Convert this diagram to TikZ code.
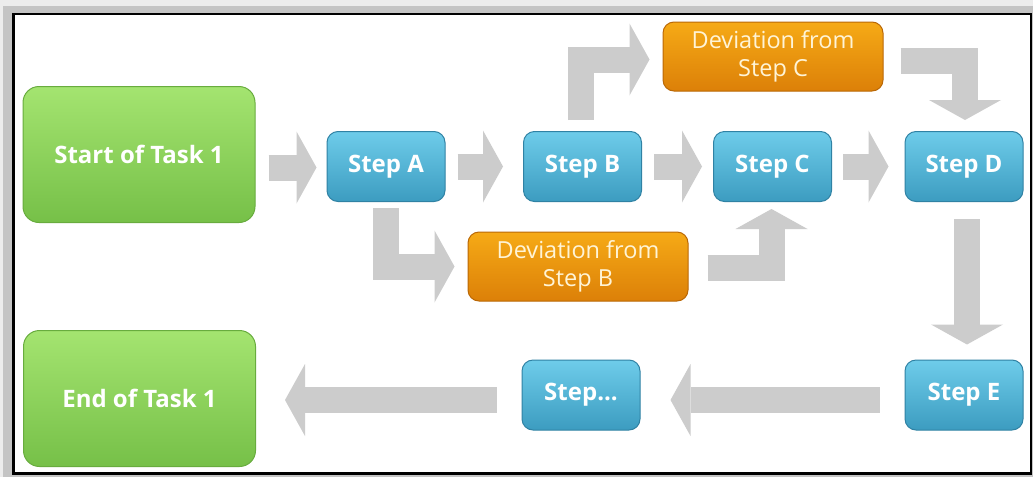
\documentclass[tikz,border=0pt]{standalone}
\usepackage{fontspec}
\setsansfont{Open Sans}
\usetikzlibrary{arrows.meta}

\definecolor{pagegray}{RGB}{236,236,236}
\definecolor{shadowgray}{RGB}{196,196,196}
\definecolor{arrowgray}{RGB}{204,204,204}
\definecolor{greentop}{RGB}{164,228,112}
\definecolor{greenbot}{RGB}{118,192,72}
\definecolor{greenedge}{RGB}{104,172,62}
\definecolor{bluetop}{RGB}{110,204,234}
\definecolor{bluebot}{RGB}{60,156,192}
\definecolor{blueedge}{RGB}{48,130,164}
\definecolor{orangetop}{RGB}{246,170,22}
\definecolor{orangebot}{RGB}{220,128,8}
\definecolor{orangeedge}{RGB}{186,104,6}
\definecolor{creamtext}{RGB}{255,244,214}

\tikzset{
  box/.style={rounded corners=11pt, inner sep=0pt, align=center, line width=1pt,
    font=\sffamily\bfseries\fontsize{24}{28}\selectfont, text=white},
  endbox/.style={box, draw=greenedge, top color=greentop, bottom color=greenbot,
    minimum width=232pt, minimum height=136pt, rounded corners=16pt},
  stepbox/.style={box, draw=blueedge, top color=bluetop, bottom color=bluebot,
    minimum width=118pt, minimum height=70pt},
  devbox/.style={box, draw=orangeedge, top color=orangetop, bottom color=orangebot,
    minimum width=220pt, minimum height=69pt,
    font=\sffamily\fontsize{23.5}{28}\selectfont, text=creamtext},
  blockarrow/.style={draw=arrowgray, line width=26pt, line join=miter,
    -{Triangle[length=20pt,width=72pt,line width=0pt]}},
}

\begin{document}
\begin{tikzpicture}[x=1pt,y=-1pt]
  % page and frame
  \useasboundingbox (0,0) rectangle (1033,477);
  \fill[pagegray] (0,0) rectangle (1033,477);
  \fill[shadowgray] (3,6) rectangle (1033,477);
  \fill[white] (13.5,14) rectangle (1031,473.5);
  \draw[black, line width=2.6pt] (13.5,14) rectangle (1031,473.5);

  % boxes
  \node[endbox]  (start) at (139,154.5) {Start of Task 1};
  \node[endbox]  (finish) at (139.5,398.5) {End of Task 1};
  \node[stepbox] (stepA) at (386,166.5) {Step A};
  \node[stepbox] (stepB) at (582.5,166.5) {Step B};
  \node[stepbox] (stepC) at (772.5,166.5) {Step C};
  \node[stepbox] (stepD) at (964,166.5) {Step D};
  \node[stepbox] (stepE) at (964,395) {Step E};
  \node[stepbox] (stepN) at (581,395) {Step...};
  \node[devbox]  (devC) at (773,56.5) {Deviation from\\Step C};
  \node[devbox]  (devB) at (578,266.5) {Deviation from\\Step B};

  % straight connectors
  \draw[blockarrow] ([shift={(13pt,-13pt)}]start.east) -- ([shift={(-10pt,-1pt)}]stepA.west);
  \draw[blockarrow] ([xshift=12pt]stepA.east) -- ([xshift=-20pt]stepB.west);
  \draw[blockarrow] ([xshift=12pt]stepB.east) -- ([xshift=-11pt]stepC.west);
  \draw[blockarrow] ([xshift=11pt]stepC.east) -- ([xshift=-16pt]stepD.west);
  \draw[blockarrow] ([shift={(3pt,-17pt)}]stepD.south) -- ([shift={(3pt,15pt)}]stepE.north);
  \draw[blockarrow] ([shift={(-25pt,-5pt)}]stepE.west) -- ([shift={(30pt,-5pt)}]stepN.east);
  \draw[blockarrow] ([shift={(-25pt,-5pt)}]stepN.west) -- ([shift={(29pt,-1.5pt)}]finish.east);

  % bent connectors through the deviations
  \draw[blockarrow] ([shift={(-2pt,11pt)}]stepB.north) |- ([shift={(-13pt,-3pt)}]devC.west);
  \draw[blockarrow] ([shift={(17pt,-4pt)}]devC.east) -| ([shift={(1pt,11pt)}]stepD.north);
  \draw[blockarrow] ([yshift=-6pt]stepA.south) |- ([xshift=-13pt]devB.west);
  \draw[blockarrow] ([shift={(19pt,-1pt)}]devB.east) -| ([shift={(-1pt,-7pt)}]stepC.south);
\end{tikzpicture}
\end{document}
